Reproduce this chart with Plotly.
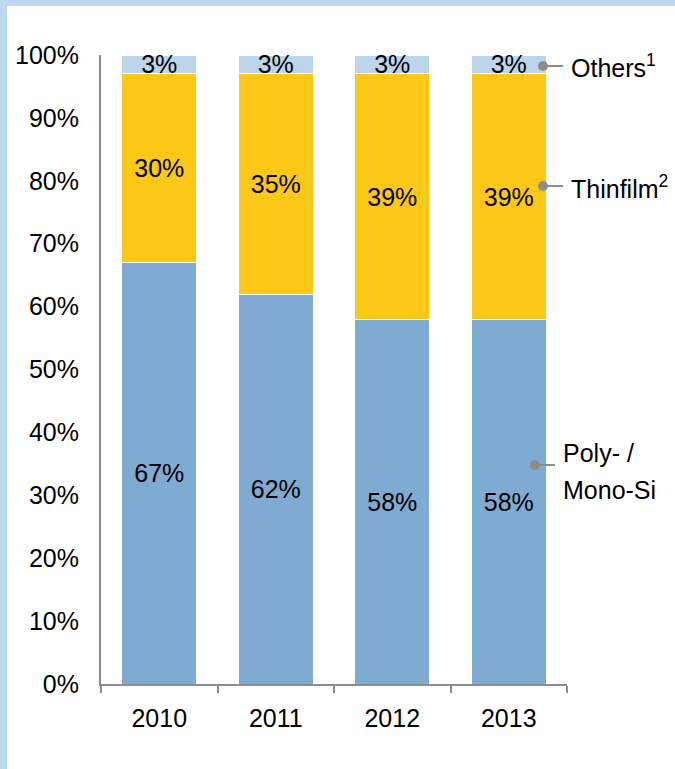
import plotly.graph_objects as go

# Module technology market share by year (percent of total)
years = ["2010", "2011", "2012", "2013"]
poly_mono_si = [67, 62, 58, 58]
thinfilm = [30, 35, 39, 39]
others = [3, 3, 3, 3]

series_names = ["Poly- /", "Mono-Si", "Thinfilm<sup>2</sup>", "Others<sup>1</sup>"]
y_ticks = [0, 10, 20, 30, 40, 50, 60, 70, 80, 90, 100]
y_tick_labels = [f"{v}%" for v in y_ticks]

FONT = "Liberation Sans, Arial, sans-serif"
FS = 25
BLUE = "#7FAAD2"
YELLOW = "#FCC817"
LIGHT = "#BDD5EB"
FRAME = "#BDD7EE"
GREY = "#8C8C8C"

fig = go.Figure()
for vals, color in [(poly_mono_si, BLUE), (thinfilm, YELLOW), (others, LIGHT)]:
    fig.add_trace(go.Bar(
        x=years, y=vals,
        marker=dict(color=color, line=dict(color="white", width=1)),
        text=[f"{v}%" for v in vals],
        textposition="inside", insidetextanchor="middle",
        constraintext="none", textangle=0,
        textfont=dict(family=FONT, size=FS, color="black"),
        showlegend=False, hoverinfo="skip",
    ))

# Plot-area geometry in pixels, used to place the frame and callouts
L, R, T, B = 101, 108, 55, 85
W, H = 675 - L - R, 769 - T - B
def px(x):
    return (x - L) / W
def py(y):
    return (769 - B - y) / H

# Leader dots and lines on the right of the last bar: (dot x, line end x, y) in pixels
leaders = [(543, 563, 66), (543, 563, 186), (535, 555, 465)]
for xd, xl, yc in leaders:
    fig.add_shape(type="line", xref="paper", yref="paper", x0=px(xd), x1=px(xl),
                  y0=py(yc), y1=py(yc), line=dict(color=GREY, width=2), layer="above")
    fig.add_shape(type="circle", xref="paper", yref="paper", xsizemode="pixel",
                  ysizemode="pixel", xanchor=px(xd), yanchor=py(yc),
                  x0=-5, x1=5, y0=-5, y1=5, fillcolor=GREY, line=dict(width=0),
                  layer="above")

# Series labels: (text, x, y) in pixels
labels = [
    (series_names[3], 569, 66),
    (series_names[2], 569, 187),
    (series_names[0], 561, 453),
    (series_names[1], 561, 490),
]
for text, xt, yc in labels:
    fig.add_annotation(x=px(xt), y=py(yc), xref="paper", yref="paper", text=text,
                       showarrow=False, xanchor="left", yanchor="middle", align="left",
                       font=dict(family=FONT, size=FS, color="black"))

# Light blue frame strips along the top and left edges
fig.add_shape(type="rect", xref="paper", yref="paper", x0=px(0), x1=px(7),
              y0=py(769), y1=py(0), fillcolor=FRAME, line=dict(width=0), layer="above")
fig.add_shape(type="rect", xref="paper", yref="paper", x0=px(0), x1=px(675),
              y0=py(6), y1=py(0), fillcolor=FRAME, line=dict(width=0), layer="above")

fig.update_layout(
    barmode="stack", bargap=0.36,
    width=675, height=769,
    margin=dict(l=L, r=R, t=T, b=B, pad=0),
    paper_bgcolor="white", plot_bgcolor="white",
    font=dict(family=FONT, size=FS, color="black"),
    xaxis=dict(type="category", range=[-0.5, 3.5], showline=True, linecolor=GREY,
               linewidth=2, ticks="outside", tickson="boundaries", ticklen=7,
               tickwidth=2, tickcolor=GREY, showgrid=False, zeroline=False,
               ticklabelstandoff=11, tickfont=dict(size=FS)),
    yaxis=dict(range=[0, 100], tickvals=y_ticks, ticktext=y_tick_labels,
               showline=True, linecolor=GREY, linewidth=2, ticks="",
               showgrid=False, zeroline=False, ticklabelstandoff=15,
               tickfont=dict(size=FS)),
)

fig.write_html("out.html")
